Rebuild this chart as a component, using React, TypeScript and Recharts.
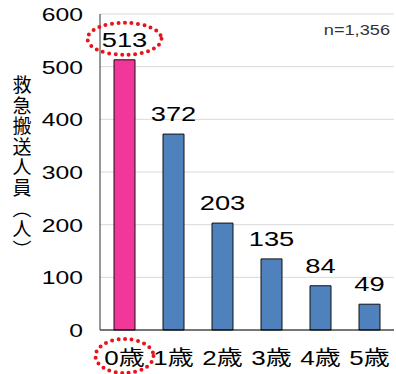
import { BarChart, Bar, XAxis, YAxis, CartesianGrid, Cell, LabelList } from "recharts";

const AGES = ["0歳", "1歳", "2歳", "3歳", "4歳", "5歳"];
const TRANSPORTED = [513, 372, 203, 135, 84, 49];
const Y_TICKS = [0, 100, 200, 300, 400, 500, 600];
const TOTAL_LABEL = "n=1,356";
const Y_TITLE = "救急搬送人員（人）";

const FONT = "'Liberation Sans', Arial, 'Noto Sans CJK JP', sans-serif";
const PINK = "#F2379A";
const BLUE = "#4F81BD";
const RED_DOTS = "#E8141B";
const WIDEN = 1.3;

const data = AGES.map((age, i) => ({ age, count: TRANSPORTED[i] }));

// text drawn a bit wider than the font's natural width
function WideText({
  x,
  y,
  size,
  anchor = "middle",
  fill = "#000",
  children,
}: {
  x: number;
  y: number;
  size: number;
  anchor?: "start" | "middle" | "end";
  fill?: string;
  children: any;
}) {
  return (
    <text
      transform={`translate(${x},${y}) scale(${WIDEN},1)`}
      textAnchor={anchor}
      fontSize={size}
      fill={fill}
      fontFamily={FONT}
    >
      {children}
    </text>
  );
}

// dotted red ring used to highlight the 0-year-old group
function DottedRing({ cx, cy, rx, ry }: { cx: number; cy: number; rx: number; ry: number }) {
  return (
    <ellipse
      cx={cx}
      cy={cy}
      rx={rx}
      ry={ry}
      fill="none"
      stroke={RED_DOTS}
      strokeWidth={4}
      strokeDasharray="0 6.5"
      strokeLinecap="round"
    />
  );
}

function AgeTick(props: any) {
  const { x, y, payload, index } = props;
  return (
    <g>
      {index === 0 && <DottedRing cx={x} cy={y + 26} rx={29} ry={17} />}
      <WideText x={x} y={y + 35} size={20}>
        {payload.value}
      </WideText>
    </g>
  );
}

function CountTick(props: any) {
  const { x, y, payload } = props;
  return (
    <WideText x={x} y={y + 7} size={19} anchor="end">
      {payload.value}
    </WideText>
  );
}

function CountLabel(props: any) {
  const { x, y, width, value, index } = props;
  const cx = x + width / 2;
  const base = y - 13;
  return (
    <g>
      {index === 0 && <DottedRing cx={cx} cy={base - 8} rx={37} ry={16} />}
      <WideText x={cx} y={base} size={21}>
        {value}
      </WideText>
    </g>
  );
}

function VerticalTitle(props: any) {
  const { viewBox } = props;
  const cy = viewBox.y + viewBox.height / 2 - 4;
  return (
    <text
      x={20}
      y={cy}
      textAnchor="middle"
      fontSize={19}
      letterSpacing={1.6}
      fill="#000"
      fontFamily={FONT}
      style={{ writingMode: "vertical-rl" }}
    >
      {Y_TITLE}
    </text>
  );
}

export default function App() {
  return (
    <div style={{ position: "absolute", left: 0, top: 0, background: "#fff" }}>
      <BarChart
        width={396}
        height={374}
        data={data}
        margin={{ top: 14, right: 2, bottom: 0, left: 0 }}
        barSize={21}
      >
        <CartesianGrid vertical={false} stroke="#D9D9D9" />
        <XAxis
          dataKey="age"
          height={44}
          tickLine={false}
          tickSize={0}
          tickMargin={0}
          stroke="#000"
          interval={0}
          tick={<AgeTick />}
        />
        <YAxis
          width={100}
          domain={[0, 600]}
          ticks={Y_TICKS}
          tickLine={false}
          tickSize={0}
          tickMargin={17}
          stroke="#333"
          tick={<CountTick />}
          label={<VerticalTitle />}
        />
        <Bar dataKey="count" stroke="#111" strokeWidth={1} isAnimationActive={false}>
          {data.map((d, i) => (
            <Cell key={d.age} fill={i === 0 ? PINK : BLUE} />
          ))}
          <LabelList dataKey="count" content={<CountLabel />} />
        </Bar>
        <WideText x={390} y={35} size={14} anchor="end" fill="#333">
          {TOTAL_LABEL}
        </WideText>
      </BarChart>
    </div>
  );
}
